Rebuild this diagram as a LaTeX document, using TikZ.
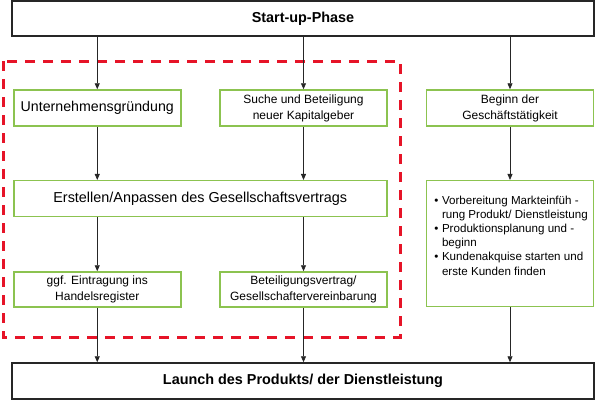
\documentclass[tikz,border=0pt]{standalone}
\usepackage{fontspec}
\setmainfont{Liberation Sans}
\usepackage{xcolor}
\usepackage{tikz}
\usetikzlibrary{calc,positioning,arrows.meta}

\definecolor{boxgreen}{RGB}{140,195,80}
\definecolor{framered}{RGB}{230,20,40}

\begin{document}
\begin{tikzpicture}[x=1pt, y=-1pt,
        phasebox/.style={draw=black!85, line width=1.5pt, fill=white,
          minimum width=582pt, minimum height=35pt, inner sep=0pt,
          font=\fontsize{14.4}{16}\selectfont\bfseries},
        stepbox/.style={draw=boxgreen, line width=1.5pt, fill=white,
          minimum width=167pt, minimum height=36pt, inner sep=0pt, align=center,
          font=\fontsize{12}{16}\selectfont},
        bigstep/.style={stepbox, minimum width=373pt,
          font=\fontsize{14.4}{16}\selectfont},
        listtext/.style={inner sep=0pt, anchor=north west, align=left,
          font=\fontsize{11.6}{14.2}\selectfont},
        flow/.style={-{Triangle[length=6pt,width=5pt]}, line width=0.8pt, black!85},
        redframe/.style={draw=framered, line width=3pt, dash pattern=on 10pt off 8pt},
      ]
      \useasboundingbox (0,0) rectangle (596,400);

      % gruppe der gruendungsschritte
      \draw[redframe] (3,61) rectangle (400,337);

      \node[phasebox] (start) at (303,18.5) {Start-up-Phase};

      \node[stepbox, font=\fontsize{14.2}{16}\selectfont] (gruendung) at (97.25,108) {Unternehmensgründung};
      \node[stepbox] (kapital) at (303.5,108) {Suche und Beteiligung\\neuer Kapitalgeber};
      \node[stepbox] (beginn) at (510,108) {Beginn der\\Geschäftstätigkeit};

      \node[bigstep] (vertrag) at (200.25,198.7) {Erstellen/Anpassen des Gesellschaftsvertrags};
      \node[stepbox, minimum height=126pt] (vorbereitung) at (510,243.7) {};
      \node[listtext] (aufgaben) at ([xshift=8.5pt,yshift=-14pt]vorbereitung.north west) {%
        \begin{tabular}{@{}l@{\hspace{3.5pt}}l@{}}
          •&Vorbereitung Markteinfüh -\\
           &rung Produkt/ Dienstleistung\\
          •&Produktionsplanung und -\\
           &beginn\\
          •&Kundenakquise starten und\\
           &erste Kunden finden
        \end{tabular}};

      \node[stepbox, minimum height=35pt] (register) at (97.25,289.5) {ggf. Eintragung ins\\Handelsregister};
      \node[stepbox, minimum height=35pt] (beteiligung) at (303.5,289.5) {Beteiligungsvertrag/\\Gesellschaftervereinbarung};

      \node[phasebox, minimum height=36pt] (launch) at (303,381) {Launch des Produkts/ der Dienstleistung};

      % verbindungen
      \draw[flow] (start.south -| gruendung) -- (gruendung);
      \draw[flow] (start.south -| kapital) -- (kapital);
      \draw[flow] (start.south -| beginn) -- (beginn);
      \draw[flow] (gruendung) -- (gruendung |- vertrag.north);
      \draw[flow] (kapital) -- (kapital |- vertrag.north);
      \draw[flow] (beginn) -- (vorbereitung);
      \draw[flow] (vertrag.south -| register) -- (register);
      \draw[flow] (vertrag.south -| beteiligung) -- (beteiligung);
      \draw[flow] (register) -- (register |- launch.north);
      \draw[flow] (beteiligung) -- (beteiligung |- launch.north);
      \draw[flow] (vorbereitung) -- (vorbereitung |- launch.north);
    \end{tikzpicture}
\end{document}
